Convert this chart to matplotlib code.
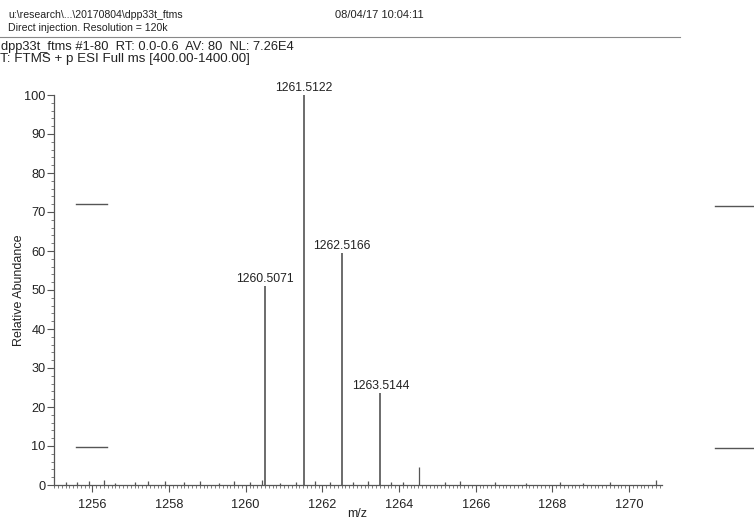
import matplotlib
matplotlib.use("Agg")
import matplotlib.pyplot as plt
from matplotlib.lines import Line2D
from matplotlib.ticker import MultipleLocator

plt.rcParams['font.family'] = ['Liberation Sans', 'DejaVu Sans']

# labelled isotope peaks
peak_mz = [1260.5071, 1261.5122, 1262.5166, 1263.5144]
peak_ab = [51.0, 100.0, 59.5, 23.5]
peak_txt = ['1260.5071', '1261.5122', '1262.5166', '1263.5144']

# small unlabelled peaks / baseline noise
noise_mz = [1255.3, 1255.6, 1255.9, 1256.3, 1256.6, 1257.1, 1257.45, 1257.9,
            1258.4, 1258.8, 1259.3, 1259.7, 1260.1, 1260.42, 1260.9, 1261.3,
            1261.8, 1262.2, 1262.8, 1263.2, 1263.8, 1264.1, 1264.51, 1265.2,
            1265.6, 1266.5, 1267.3, 1268.2, 1268.8, 1269.5, 1270.7]
noise_ab = [0.8, 0.7, 1.0, 1.2, 0.6, 0.8, 0.9, 1.1,
            0.7, 1.0, 0.6, 0.9, 0.8, 1.3, 0.6, 0.7,
            0.9, 0.8, 0.7, 0.9, 0.7, 0.8, 4.6, 0.7,
            0.9, 0.7, 0.6, 0.7, 0.6, 0.7, 1.4]

W, H = 754, 522
fig = plt.figure(figsize=(W / 100, H / 100), dpi=100)
ax = fig.add_axes([54 / W, 1 - 485 / H, (662 - 54) / W, (485 - 95) / H])

ax.vlines(noise_mz, 0, noise_ab, color='#555555', lw=0.9)
ax.vlines(peak_mz, 0, peak_ab, color='#444444', lw=1.1)
for x, y, t in zip(peak_mz, peak_ab, peak_txt):
    ax.annotate(t, (x, y), xytext=(0, 1), textcoords='offset points',
                ha='center', va='bottom', fontsize=8.8, color='#222222')

ax.set_xlim(1255.0, 1270.86)
ax.set_ylim(0, 100)
ax.spines['top'].set_visible(False)
ax.spines['right'].set_visible(False)
for s in ['left', 'bottom']:
    ax.spines[s].set_color('#555555')
    ax.spines[s].set_linewidth(0.9)

ax.xaxis.set_major_locator(MultipleLocator(2))
ax.xaxis.set_minor_locator(MultipleLocator(0.1))
ax.yaxis.set_major_locator(MultipleLocator(10))
ax.yaxis.set_minor_locator(MultipleLocator(2))
ax.tick_params(axis='both', which='major', length=5, width=0.8, color='#555555',
               labelsize=9.2, labelcolor='#222222')
ax.tick_params(axis='both', which='minor', length=2.5, width=0.6, color='#666666')
ax.tick_params(axis='x', which='major', pad=5)
ax.tick_params(axis='y', which='major', pad=1)

fig.text(19 / W, 1 - 290 / H, 'Relative Abundance', rotation=90, fontsize=9,
         ha='center', va='center', color='#222222')
fig.text(357 / W, 1 - 514 / H, 'm/z', fontsize=9, ha='center', va='center',
         color='#222222')

# header block
fig.text(8 / W, 1 - 15 / H, 'u:\\research\\...\\20170804\\dpp33t_ftms', fontsize=7.6,
         va='center', color='#222222')
fig.text(8 / W, 1 - 28 / H, 'Direct injection. Resolution = 120k', fontsize=7.6,
         va='center', color='#222222')
fig.text(335 / W, 1 - 15 / H, '08/04/17 10:04:11', fontsize=8,
         va='center', color='#222222')
fig.text(1 / W, 1 - 47 / H, 'dpp33t_ftms #1-80  RT: 0.0-0.6  AV: 80  NL: 7.26E4',
         fontsize=9.3, va='center', color='#222222')
fig.text(0 / W, 1 - 59 / H, 'T: FTMS + p ESI Full ms [400.00-1400.00]',
         fontsize=9.6, va='center', color='#222222')
fig.add_artist(Line2D([0, 680 / W], [1 - 37 / H] * 2, transform=fig.transFigure,
                      color='#888888', lw=0.8))

# scanner marks on the page
for (x0, x1, y) in [(76, 107, 204), (76, 107, 447), (715, 754, 206), (715, 754, 448)]:
    fig.add_artist(Line2D([x0 / W, x1 / W], [1 - y / H] * 2,
                          transform=fig.transFigure, color='#555555', lw=1.0))

fig.savefig('out.png', dpi=100, facecolor='white')
